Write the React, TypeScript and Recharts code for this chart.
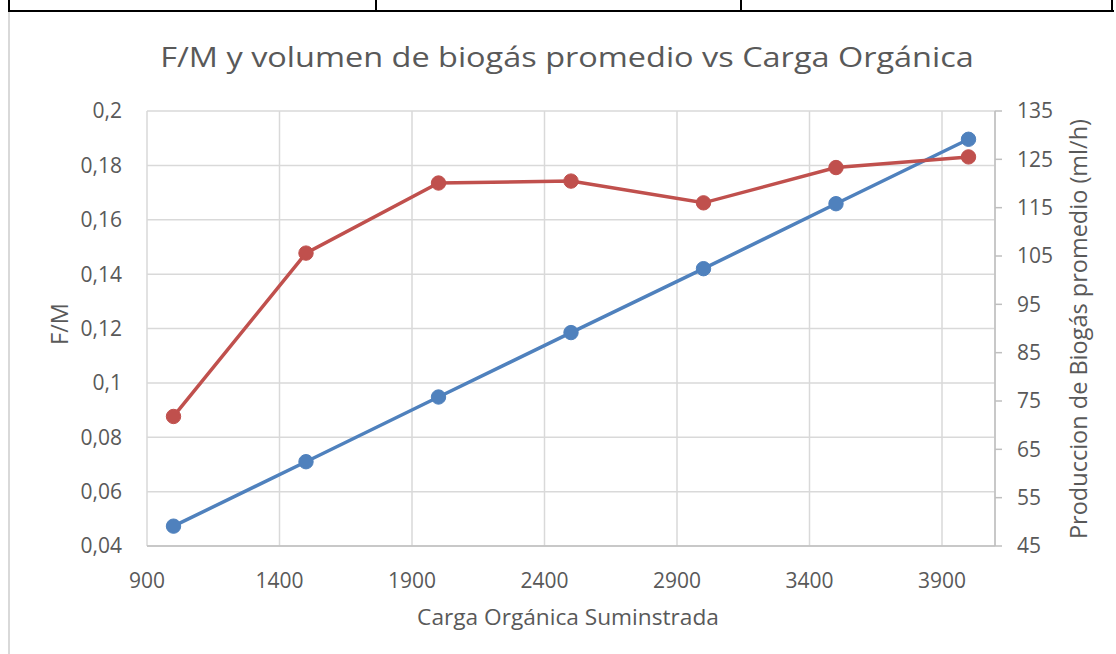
import React from 'react';
import { LineChart, Line, XAxis, YAxis, CartesianGrid } from 'recharts';

const cargas = [1000, 1500, 2000, 2500, 3000, 3500, 4000];
const fmValues = [0.0473, 0.071, 0.0948, 0.1185, 0.142, 0.1659, 0.1896];
const biogasValues = [71.8, 105.6, 120.1, 120.5, 116.0, 123.3, 125.5];
const xTicks = [900, 1400, 1900, 2400, 2900, 3400, 3900];
const fmTicks = [0.04, 0.06, 0.08, 0.1, 0.12, 0.14, 0.16, 0.18, 0.2];
const biogasTicks = [45, 55, 65, 75, 85, 95, 105, 115, 125, 135];

const data = cargas.map((c, i) => ({ carga: c, fm: fmValues[i], biogas: biogasValues[i] }));

const FONT = '"Open Sans", sans-serif';
const TXT = '#595959';

const fmtFM = (v: number) => String(Number(v.toFixed(2))).replace('.', ',');

export default function App() {
  return (
    <div style={{ position: 'absolute', left: 0, top: 0, width: 1116, height: 654, background: '#fff', fontFamily: FONT, overflow: 'hidden' }}>
      {/* table borders */}
      <div style={{ position: 'absolute', left: 8, top: 10, width: 1106, height: 2, background: '#000' }} />
      <div style={{ position: 'absolute', left: 8, top: 0, width: 2, height: 12, background: '#000' }} />
      <div style={{ position: 'absolute', left: 375, top: 0, width: 2, height: 12, background: '#000' }} />
      <div style={{ position: 'absolute', left: 740, top: 0, width: 2, height: 12, background: '#000' }} />
      <div style={{ position: 'absolute', left: 1111, top: 0, width: 2, height: 12, background: '#000' }} />
      <div style={{ position: 'absolute', left: 8, top: 12, width: 2, height: 642, background: '#d9d9d9' }} />

      <div style={{ position: 'absolute', left: 0, top: 0 }}>
        <LineChart width={1116} height={654} data={data} margin={{ top: 111, right: 0, bottom: 0, left: 0 }}>
          <CartesianGrid yAxisId="left" stroke="#d9d9d9" strokeWidth={1.5} />
          <XAxis
            dataKey="carga"
            type="number"
            domain={[900, 4100]}
            ticks={xTicks}
            height={108}
            tickLine={false}
            axisLine={{ stroke: '#bfbfbf', strokeWidth: 1.5 }}
            tick={{ fill: TXT, fontSize: 21, fontFamily: FONT }}
            tickMargin={21}
            interval={0}
          />
          <YAxis
            yAxisId="left"
            orientation="left"
            domain={[0.04, 0.2]}
            ticks={fmTicks}
            width={147}
            tickLine={false}
            axisLine={false}
            tickFormatter={fmtFM}
            tick={{ fill: TXT, fontSize: 21, fontFamily: FONT }}
            tickMargin={19}
            interval={0}
          />
          <YAxis
            yAxisId="right"
            orientation="right"
            domain={[45, 135]}
            ticks={biogasTicks}
            width={121}
            tickSize={7}
            tickLine={{ stroke: '#bfbfbf', strokeWidth: 1.5 }}
            axisLine={{ stroke: '#bfbfbf', strokeWidth: 1.5 }}
            tick={{ fill: TXT, fontSize: 21, fontFamily: FONT }}
            tickMargin={15}
            interval={0}
          />
          <Line
            yAxisId="left"
            dataKey="fm"
            stroke="#4f81bd"
            strokeWidth={3.5}
            dot={{ r: 7.2, fill: '#4f81bd', stroke: '#4f81bd', strokeWidth: 1 }}
            isAnimationActive={false}
          />
          <Line
            yAxisId="right"
            dataKey="biogas"
            stroke="#c0504d"
            strokeWidth={3.5}
            dot={{ r: 7.2, fill: '#c0504d', stroke: '#c0504d', strokeWidth: 1 }}
            isAnimationActive={false}
          />
        </LineChart>
      </div>

      <div style={{ position: 'absolute', left: 567, top: 37, width: 0, height: 40 }}>
        <div style={{ position: 'absolute', left: -500, top: 0, width: 1000, textAlign: 'center', fontSize: 27.5, color: TXT, whiteSpace: 'nowrap', lineHeight: '40px', transform: 'scaleX(1.18)' }}>
          F/M y volumen de biogás promedio vs Carga Orgánica
        </div>
      </div>
      <div style={{ position: 'absolute', left: 568, top: 601, width: 0, height: 30 }}>
        <div style={{ position: 'absolute', left: -300, top: 0, width: 600, textAlign: 'center', fontSize: 22, color: TXT, whiteSpace: 'nowrap', lineHeight: '30px', transform: 'scaleX(1.03)' }}>
          Carga Orgánica Suminstrada
        </div>
      </div>
      <div style={{ position: 'absolute', left: 59, top: 324, width: 0, height: 0 }}>
        <div style={{ position: 'absolute', left: -100, top: -15, width: 200, textAlign: 'center', fontSize: 23.5, color: TXT, lineHeight: '30px', transform: 'rotate(-90deg)', whiteSpace: 'nowrap' }}>
          F/M
        </div>
      </div>
      <div style={{ position: 'absolute', left: 1078, top: 329, width: 0, height: 0 }}>
        <div style={{ position: 'absolute', left: -300, top: -15, width: 600, textAlign: 'center', fontSize: 23.5, color: TXT, lineHeight: '30px', transform: 'rotate(-90deg)', whiteSpace: 'nowrap' }}>
          Produccion de Biogás promedio (ml/h)
        </div>
      </div>
    </div>
  );
}
